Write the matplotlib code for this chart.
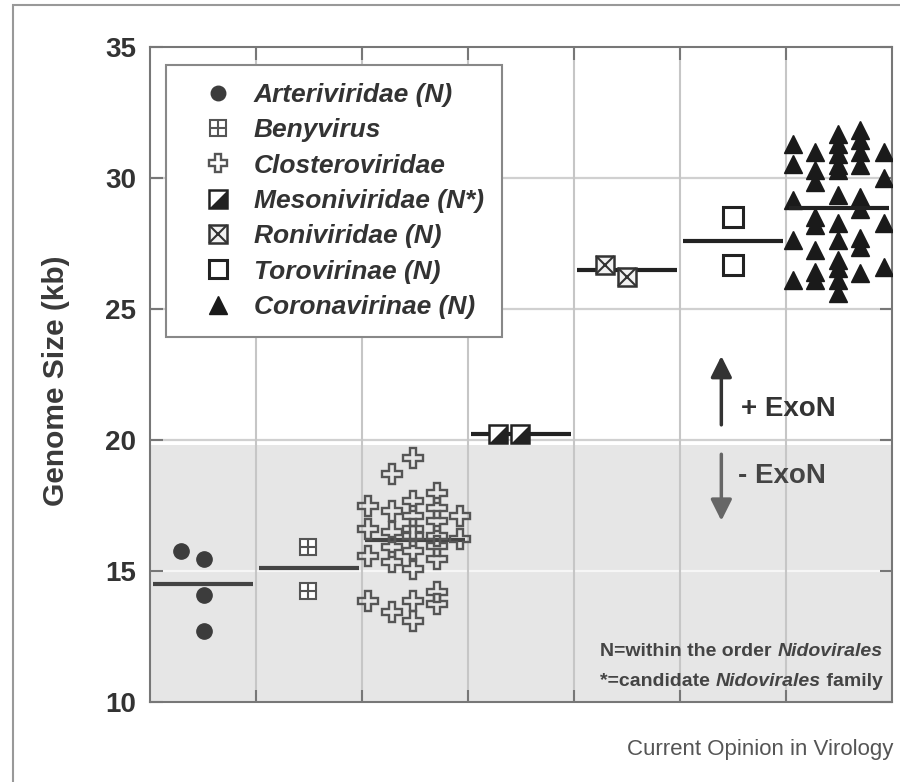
import matplotlib
matplotlib.use('Agg')
import matplotlib.pyplot as plt
from matplotlib.lines import Line2D
from matplotlib.patches import Rectangle

plt.rcParams['font.family'] = ['Liberation Sans', 'DejaVu Sans']

# ---- data ----
families = ['Arteriviridae (N)', 'Benyvirus', 'Closteroviridae', 'Mesoniviridae (N*)',
            'Roniviridae (N)', 'Torovirinae (N)', 'Coronavirinae (N)']
group_means = [14.49, 15.1, 16.16, 20.2, 26.48, 27.6, 28.84]

arteri_x = [0.29, 0.51, 0.51, 0.51]
arteri_y = [15.75, 15.44, 14.07, 12.70]

beny_x = [1.49, 1.49]
beny_y = [15.9, 14.22]

clostero_x = [2.06, 2.06, 2.06, 2.06,
              2.28, 2.28, 2.28, 2.28, 2.28, 2.28,
              2.48, 2.48, 2.48, 2.48, 2.48, 2.48, 2.48, 2.48, 2.48,
              2.71, 2.71, 2.71, 2.71, 2.71, 2.71, 2.71, 2.71,
              2.92, 2.92]
clostero_y = [17.47, 16.58, 15.57, 13.86,
              18.68, 17.28, 16.46, 15.90, 15.32, 13.41,
              19.31, 17.66, 17.10, 16.60, 16.33, 15.76, 15.06, 13.86, 13.09,
              17.97, 17.41, 16.90, 16.33, 15.95, 15.44, 14.17, 13.73,
              17.09, 16.20]

meso_x = [3.28, 3.49]
meso_y = [20.2, 20.2]

roni_x = [4.29, 4.50]
roni_y = [26.67, 26.22]

toro_x = [5.50, 5.50]
toro_y = [28.5, 26.67]

corona_x = [6.07, 6.07, 6.07, 6.07, 6.07,
            6.27, 6.27, 6.27, 6.27, 6.27, 6.27, 6.27, 6.27,
            6.49, 6.49, 6.49, 6.49, 6.49, 6.49, 6.49, 6.49, 6.49, 6.49, 6.49, 6.49,
            6.70, 6.70, 6.70, 6.70, 6.70, 6.70, 6.70, 6.70, 6.70,
            6.92, 6.92, 6.92, 6.92]
corona_y = [31.30, 30.54, 29.14, 27.62, 26.10,
            30.98, 30.28, 29.84, 28.51, 28.19, 27.24, 26.41, 26.10,
            31.68, 31.30, 30.92, 30.47, 30.28, 29.33, 28.26, 27.62, 26.86, 26.54, 26.10, 25.59,
            31.81, 31.43, 30.98, 30.47, 29.27, 28.82, 27.68, 27.37, 26.35,
            30.98, 29.97, 28.26, 26.60]

exon_split = 19.8
y_ticks = [10, 15, 20, 25, 30, 35]

# ---- figure ----
fig = plt.figure(figsize=(9, 7.82), dpi=100)
ax = fig.add_axes([0.1667, 0.1027, 0.8244, 0.8376])
ax.set_xlim(0, len(families))
ax.set_ylim(y_ticks[0], y_ticks[-1])

ax.axhspan(y_ticks[0], exon_split, color='#e6e6e6', lw=0, zorder=0)
for v in y_ticks[1:-1]:
    ax.axhline(v, color='#f6f6f6' if v < exon_split else '#d0d0d0', lw=1.6, zorder=0.5)
for i in range(1, len(families)):
    ax.axvline(i, color='#c6c6c6', lw=1.5, zorder=0.5)

line_cols = ['#444444', '#444444', '#444444', '#222222', '#222222', '#222222', '#222222']
for i, m in enumerate(group_means):
    ax.hlines(m, i + 0.03, i + 0.97, colors=line_cols[i], lw=3, zorder=4 if i == 6 else 2)


def draw(xs, ys, layers):
    hs = []
    for st in layers:
        h, = ax.plot(xs, ys, ls='none', zorder=3, **st)
        hs.append(Line2D([], [], ls='none', **st))
    return tuple(hs)


tri = [(-1, -1), (1, -1), (1, 1), (-1, -1)]
handles = [
    draw(arteri_x, arteri_y, [dict(marker='o', ms=11, color='#3c3c3c')]),
    draw(beny_x, beny_y, [dict(marker='s', ms=12, mfc='white', mec='#555555', mew=1.5),
                          dict(marker='+', ms=12, mec='#555555', mew=1.5)]),
    draw(clostero_x, clostero_y, [dict(marker='P', ms=14, mfc='none', mec='#555555', mew=1.7)]),
    draw(meso_x, meso_y, [dict(marker='s', ms=13, mfc='white', mec='#222222', mew=1.8),
                          dict(marker=tri, ms=13, color='#222222', mew=0)]),
    draw(roni_x, roni_y, [dict(marker='s', ms=13, mfc='#f2f2f2', mec='#333333', mew=1.8),
                          dict(marker='x', ms=13, mec='#333333', mew=1.5)]),
    draw(toro_x, toro_y, [dict(marker='s', ms=14, mfc='white', mec='#222222', mew=2.2)]),
    draw(corona_x, corona_y, [dict(marker='^', ms=13, color='#1a1a1a')]),
]

leg = ax.legend(handles, families, loc='upper left', bbox_to_anchor=(0.0216, 0.972),
                borderaxespad=0, borderpad=0.68, handlelength=2.58, handletextpad=0.07,
                labelspacing=0.43, markerscale=0.95, frameon=True, fancybox=False,
                edgecolor='#888888', framealpha=1,
                prop=dict(family='Liberation Sans', weight='bold', style='italic', size=19))
leg.get_frame().set_linewidth(1.5)
for t in leg.get_texts():
    t.set_color('#333333')

# ExoN arrows
ax.annotate('', xy=(5.39, 23.30), xytext=(5.39, 20.46),
            arrowprops=dict(arrowstyle='-|>', color='#333333', lw=2.5, mutation_scale=32))
ax.annotate('', xy=(5.39, 16.80), xytext=(5.39, 19.55),
            arrowprops=dict(arrowstyle='-|>', color='#666666', lw=2.5, mutation_scale=32))
ax.text(5.58, 21.19, '+ ExoN', fontsize=20, weight='bold', color='#333333', va='center')
ax.text(5.55, 18.60, '- ExoN', fontsize=20, weight='bold', color='#444444', va='center')

# footnote inside axes (right aligned, mixed italic)
fkw = dict(fontsize=14, weight='bold', color='#444444', va='bottom')
t1 = ax.text(6.91, 11.60, 'Nidovirales', ha='right', style='italic', **fkw)
ax.annotate('N=within the order ', xy=(0, 0), xycoords=t1, ha='right', **fkw)
t2 = ax.text(6.91, 10.45, ' family', ha='right', **fkw)
t3 = ax.annotate('Nidovirales', xy=(0, 0), xycoords=t2, ha='right', style='italic', **fkw)
ax.annotate('*=candidate ', xy=(0, 0), xycoords=t3, ha='right', **fkw)

# axes styling
ax.set_xticks(range(1, len(families)))
ax.set_yticks(y_ticks)
ax.tick_params(axis='both', direction='in', length=9, width=1.5, color='#777777',
               top=True, right=True, labelsize=20, pad=10, labelcolor='#333333')
ax.tick_params(axis='x', labelbottom=False)
for lbl in ax.get_yticklabels():
    lbl.set_fontweight('bold')
for sp in ax.spines.values():
    sp.set_color('#777777')
    sp.set_linewidth(1.5)

ax.set_ylabel('Genome Size (kb)', fontsize=21.5, weight='bold', color='#3a3a3a')
ax.yaxis.set_label_coords(-0.108, 0.49)

fig.text(893 / 900, 1 - 750 / 782, 'Current Opinion in Virology', ha='right', va='center',
         fontsize=16, color='#555555')
fig.patches.append(Rectangle((13 / 900, -0.1), 1.2, 1.1 - 5 / 782, transform=fig.transFigure,
                             fill=False, edgecolor='#999999', lw=1.5))

fig.savefig('out.png', dpi=100)
